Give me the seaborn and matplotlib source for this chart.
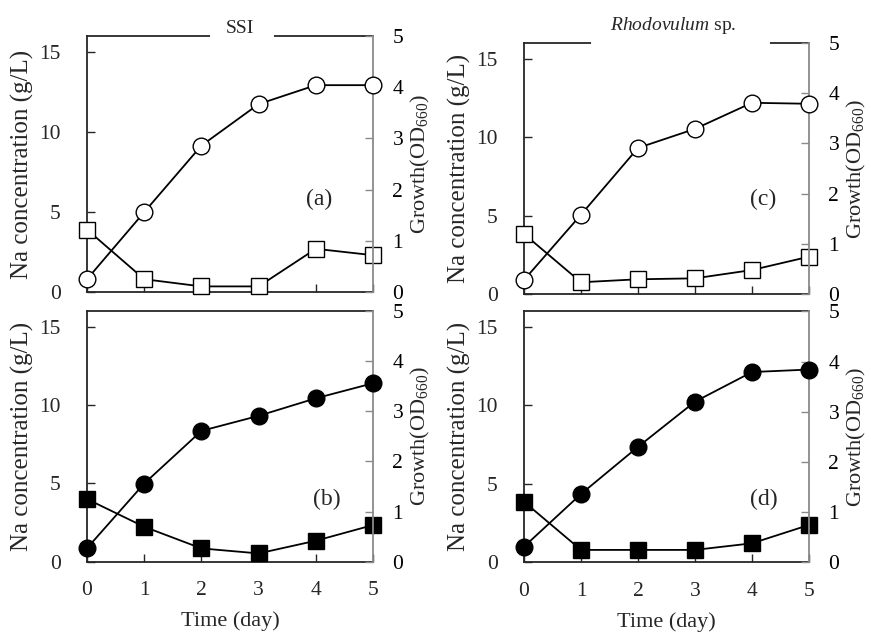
import matplotlib
matplotlib.use("Agg")
import matplotlib.pyplot as plt
import seaborn as sns

# data
days = [0, 1, 2, 3, 4, 5]

# SSI
na_ssi_open = [3.9, 0.8, 0.35, 0.35, 2.7, 2.3]
growth_ssi_open = [0.25, 1.56, 2.86, 3.67, 4.04, 4.04]
na_ssi_filled = [4.0, 2.23, 0.85, 0.53, 1.34, 2.34]
growth_ssi_filled = [0.27, 1.56, 2.61, 2.91, 3.26, 3.56]

# Rhodovulum sp.
na_rho_open = [3.83, 0.75, 0.94, 1.0, 1.53, 2.38]
growth_rho_open = [0.28, 1.58, 2.91, 3.29, 3.81, 3.79]
na_rho_filled = [3.86, 0.79, 0.79, 0.79, 1.21, 2.38]
growth_rho_filled = [0.31, 1.36, 2.30, 3.20, 3.79, 3.84]

panel_labels = ["(a)", "(b)", "(c)", "(d)"]

sns.set_style("ticks")
plt.rcParams["font.family"] = ["Liberation Serif", "DejaVu Serif"]
plt.rcParams["mathtext.fontset"] = "custom"
plt.rcParams["mathtext.rm"] = "Liberation Serif"
plt.rcParams["mathtext.it"] = "Liberation Serif:italic"

fig = plt.figure(figsize=(8.71, 6.33), dpi=100)

# axes positions [left, bottom, width, height]
positions = {
    "a": [0.0999, 0.5387, 0.3284, 0.4044],
    "b": [0.0999, 0.1126, 0.3284, 0.3960],
    "c": [0.6016, 0.5355, 0.3272, 0.3965],
    "d": [0.6016, 0.1117, 0.3272, 0.3965],
}

panels = [
    ("a", na_ssi_open, growth_ssi_open, "white", (0.81, 0.36)),
    ("b", na_ssi_filled, growth_ssi_filled, "black", (0.84, 0.25)),
    ("c", na_rho_open, growth_rho_open, "white", (0.84, 0.375)),
    ("d", na_rho_filled, growth_rho_filled, "black", (0.84, 0.25)),
]

gray = "#8a8a8a"
axes = {}
for key, na, growth, face, lab_pos in panels:
    ax = fig.add_axes(positions[key])
    ax2 = ax.twinx()
    axes[key] = ax

    sns.lineplot(x=days, y=na, ax=ax, color="black", lw=1.3, marker="s",
                 markersize=11, markerfacecolor=face, markeredgecolor="black",
                 markeredgewidth=1.0, clip_on=False, zorder=3)
    sns.lineplot(x=days, y=growth, ax=ax2, color="black", lw=1.3, marker="o",
                 markersize=12, markerfacecolor=face, markeredgecolor="black",
                 markeredgewidth=1.0, clip_on=False, zorder=3)

    ax.set_xlim(0, 5)
    ax.set_ylim(0, 16)
    ax2.set_ylim(0, 5)
    ax.set_yticks([0, 5, 10, 15])
    ax2.set_yticks([0, 1, 2, 3, 4, 5])
    ax.set_xticks(days)

    ax.spines["right"].set_visible(False)
    for s in ["left", "top", "bottom"]:
        ax2.spines[s].set_visible(False)
        ax.spines[s].set_linewidth(1.3)
    ax2.spines["right"].set_color(gray)
    ax2.spines["right"].set_linewidth(1.3)

    ax.tick_params(axis="y", direction="in", length=6, width=1, labelsize=15.5, pad=19)
    ax.tick_params(axis="x", direction="in", length=6, width=1, labelsize=15.5, pad=14)
    ax2.tick_params(axis="y", direction="in", length=6, width=1, labelsize=15.5,
                    color=gray, labelcolor="black", pad=14)

    ax.set_ylabel("Na concentration (g/L)", fontsize=18, labelpad=4)
    ax2.set_ylabel("Growth(OD$_{660}$)", fontsize=16, labelpad=4)

    if key in ("a", "c"):
        ax.tick_params(axis="x", labelbottom=False)
        ax.set_xlabel("")
    else:
        ax.set_xlabel("Time (day)", fontsize=16, labelpad=8)

    ax.text(lab_pos[0], lab_pos[1], panel_labels["abcd".index(key)],
            transform=ax.transAxes, ha="center", va="center", fontsize=17)

# column titles with the gap in the top frame
ax_a = axes["a"]
ax_a.plot([0.437, 0.647], [1, 1], transform=ax_a.transAxes, color="white",
          lw=3, clip_on=False, zorder=10)
ax_a.text(0.535, 1.03, "SSI", transform=ax_a.transAxes, ha="center",
          va="center", fontsize=14)

ax_c = axes["c"]
ax_c.plot([0.242, 0.856], [1, 1], transform=ax_c.transAxes, color="white",
          lw=3, clip_on=False, zorder=10)
ax_c.text(0.523, 1.07, r"$\mathit{Rhodovulum}$ sp.", transform=ax_c.transAxes,
          ha="center", va="center", fontsize=14)

fig.savefig("out.png", dpi=100)
